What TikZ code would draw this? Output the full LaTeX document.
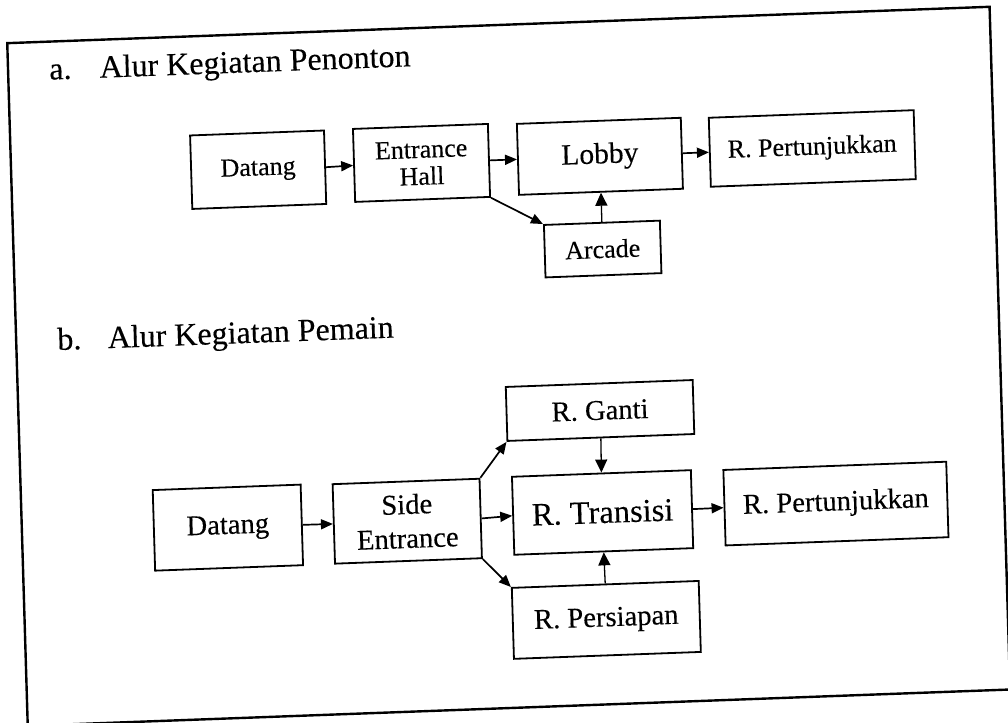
\documentclass[tikz,border=0pt]{standalone}
\usepackage{fontspec}
\setmainfont{Liberation Serif}[FakeBold=0.25]
\usetikzlibrary{arrows.meta}
\begin{document}
\begin{tikzpicture}[x=1pt,y=-1pt,
  box/.style={draw, line width=1.8pt, rectangle, inner sep=0pt, align=center, transform shape},
  fa/.style={font=\fontsize{26}{27}\selectfont},
  fb/.style={font=\fontsize{28.6}{34}\selectfont},
  arr/.style={line width=1.7pt, -{Triangle[length=12pt,width=10pt]}},
  varr/.style={line width=1.3pt, -{Triangle[length=13pt,width=12pt]}},
  heading/.style={anchor=base west, inner sep=0pt, font=\fontsize{32}{36}\selectfont, transform shape},
  frame/.style={line width=2.4pt}]
\useasboundingbox (0,0) rectangle (1008,722);
\fill[white] (0,0) rectangle (1008,722);
% the sheet sits slightly tilted on the page
\begin{scope}[cm={0.99932,0.03699,-0.03001,0.99955,(-10.491pt,-18.805pt)}]
  \draw[frame] (17,25) rectangle (1000,708);

  % a. spectators
  \node[heading] (headA) at (58,63) {\makebox[50.4pt][l]{a.}Alur Kegiatan Penonton};
  \node[box, fa, minimum width=134pt, minimum height=73.5pt] (dA) at (264,160.75) {Datang};
  \node[box, fa, minimum width=135pt, minimum height=73pt] (eA) at (427.5,160) {Entrance\\Hall};
  \node[box, font=\fontsize{29.5}{31}\selectfont, minimum width=164pt, minimum height=71pt] (lA) at (606,160) {Lobby};
  \node[box, fa, minimum width=205pt, minimum height=69pt] (rA) at (818.5,160) {R. Pertunjukkan};
  \node[box, fa, minimum width=116pt, minimum height=52.5pt] (cA) at (606,252.75) {Arcade};

  \draw[arr] (dA.east) -- (eA.west);
  \draw[arr] (eA.east) -- (lA.west);
  \draw[arr] (lA.east) -- (rA.west);
  \draw[arr] (eA.south east) -- (cA.north west);
  \draw[varr] (cA.north) -- (lA.south);

  % b. performers
  \node[heading] (headB) at (58,333.5) {\makebox[50.4pt][l]{b.}Alur Kegiatan Pemain};
  \node[box, fb, minimum width=148pt, minimum height=80.6pt] (dB) at (223,517.3) {Datang};
  \node[box, fb, minimum width=147pt, minimum height=79.5pt] (sB) at (402.5,517.5) {Side\\Entrance};
  \node[box, fb, minimum width=187pt, minimum height=54pt] (gB) at (598.5,414) {R. Ganti};
  \node[box, font=\fontsize{32.5}{34}\selectfont, minimum width=179pt, minimum height=78pt] (trB) at (598,516) {R. Transisi};
  \node[box, fb, minimum width=223pt, minimum height=75.5pt] (rB) at (831.5,515.75) {R. Pertunjukkan};
  \node[box, fb, minimum width=187pt, minimum height=71pt] (pB) at (598.5,623.5) {R. Persiapan};

  \draw[arr] (dB.east) -- (sB.west);
  \draw[arr] (sB.east) -- (trB.west);
  \draw[arr] (sB.north east) -- (gB.south west);
  \draw[arr] (sB.south east) -- (pB.north west);
  \draw[varr] (gB.south) -- (trB.north);
  \draw[varr] (pB.north) -- (trB.south);
  \draw[arr] (trB.east) -- (rB.west);
\end{scope}
\end{tikzpicture}
\end{document}
